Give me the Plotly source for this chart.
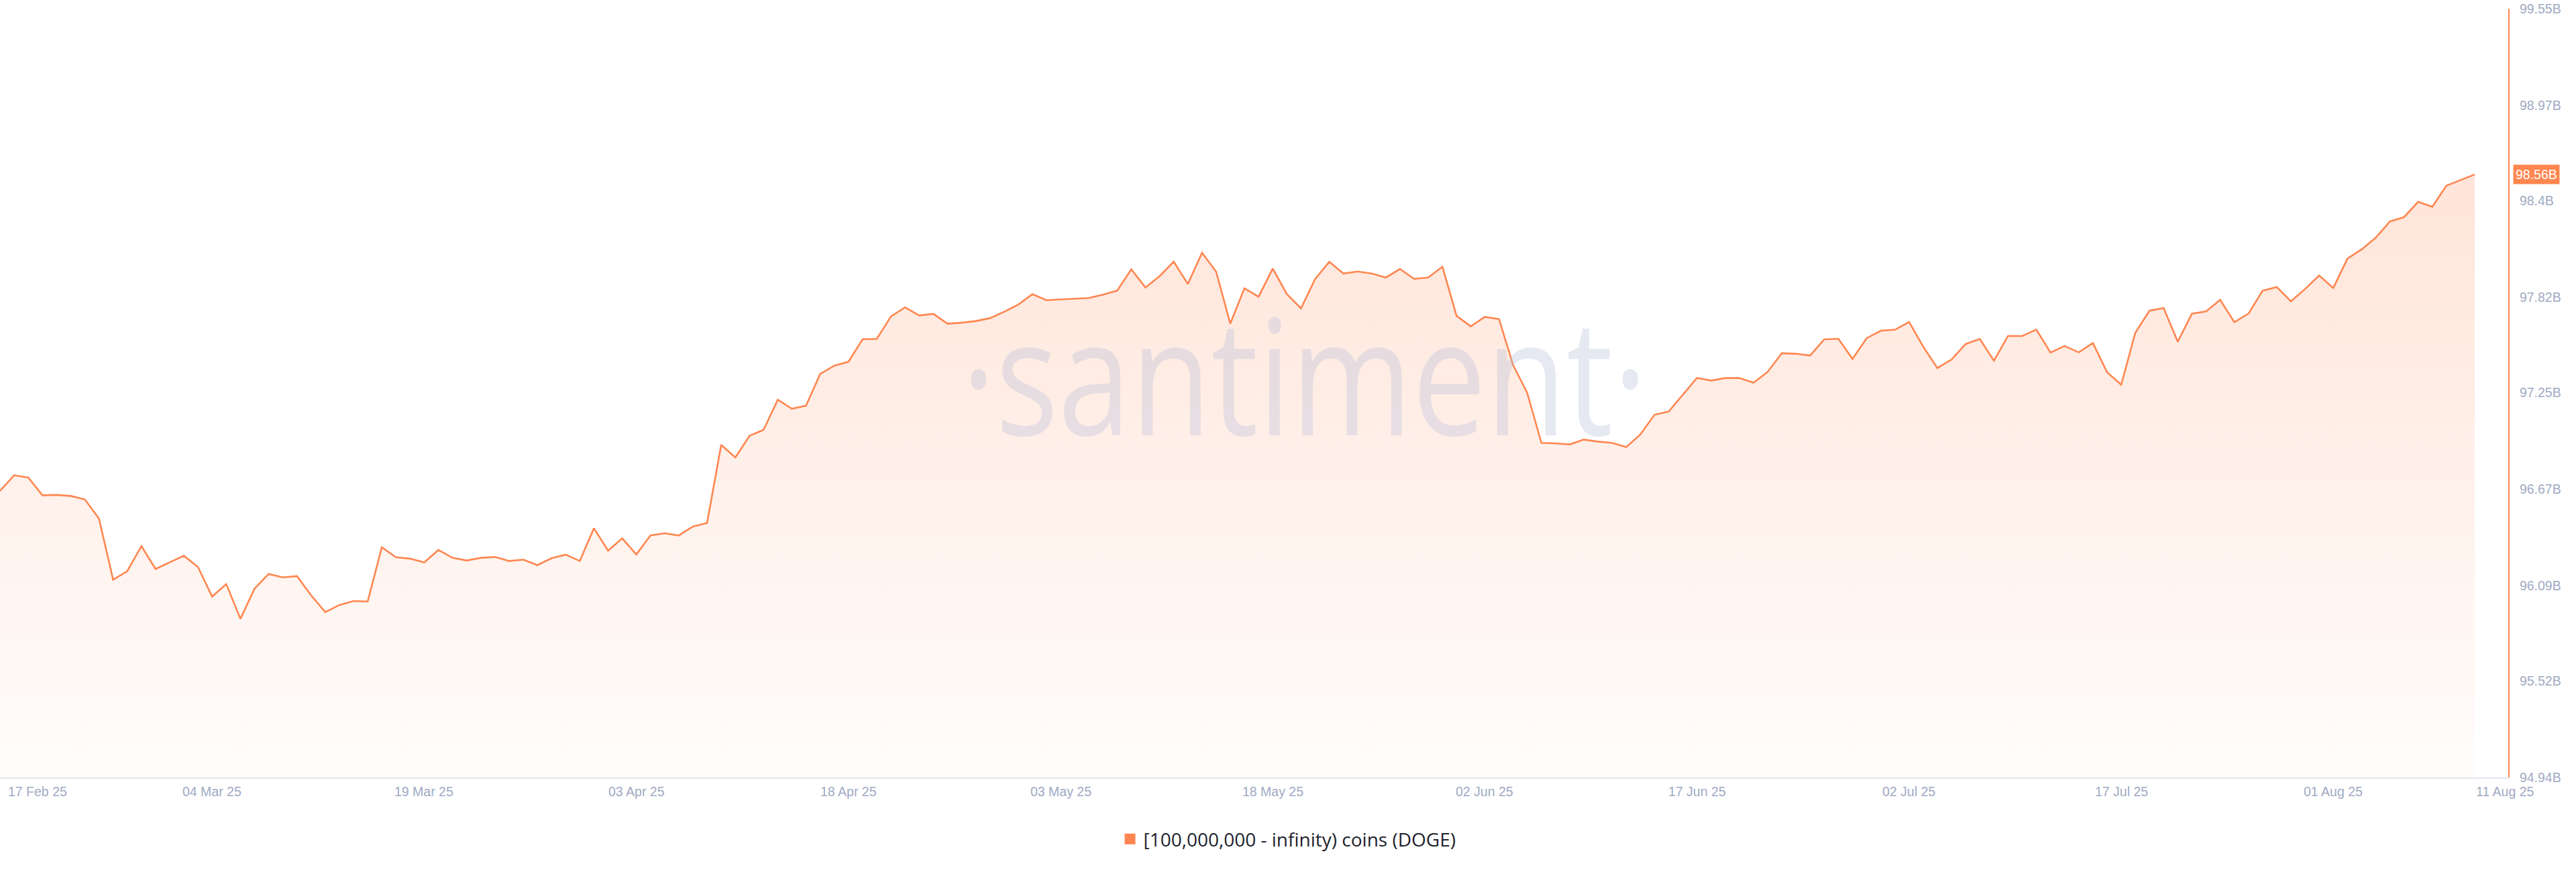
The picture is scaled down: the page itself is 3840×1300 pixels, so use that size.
import pandas as pd
import plotly.graph_objects as go

# ---- data -------------------------------------------------------------
start_date = "2025-02-17"
holdings_b = [
    96.658, 96.752, 96.738, 96.632, 96.634, 96.628, 96.607, 96.492, 96.126, 96.177,
    96.327, 96.190, 96.230, 96.269, 96.202, 96.025, 96.099, 95.891, 96.072, 96.160,
    96.140, 96.147, 96.032, 95.931, 95.974, 95.998, 95.995, 96.320, 96.260, 96.252,
    96.229, 96.304, 96.257, 96.241, 96.257, 96.262, 96.238, 96.246, 96.213, 96.254,
    96.276, 96.238, 96.434, 96.300, 96.374, 96.277, 96.391, 96.404,
    96.391, 96.445, 96.466, 96.934, 96.859, 96.988, 97.025, 97.205, 97.151, 97.169,
    97.360, 97.409, 97.433, 97.568, 97.570, 97.704, 97.759, 97.710, 97.720, 97.661,
    97.667, 97.677, 97.694, 97.732, 97.775, 97.838, 97.802, 97.806, 97.808, 97.815,
    97.835, 97.859, 97.987, 97.878, 97.946, 98.033, 97.899, 98.087, 97.973, 97.661,
    97.873, 97.823,
    97.992, 97.839, 97.753, 97.929, 98.032, 97.962, 97.974, 97.962, 97.938, 97.989,
    97.930, 97.938, 98.003, 97.708, 97.645, 97.702, 97.689, 97.413, 97.245, 96.946,
    96.943,
    96.937, 96.966, 96.954, 96.946, 96.921, 96.997, 97.115, 97.134, 97.236, 97.336,
    97.320, 97.335, 97.335, 97.307, 97.372, 97.484, 97.481, 97.470, 97.567, 97.571,
    97.449, 97.574, 97.619, 97.625, 97.671, 97.523, 97.395, 97.446, 97.539, 97.570,
    97.439, 97.588, 97.587, 97.626, 97.488, 97.527, 97.489, 97.545, 97.370, 97.295,
    97.607, 97.739, 97.755, 97.553, 97.721, 97.735, 97.804, 97.670, 97.721, 97.859,
    97.881, 97.795, 97.869, 97.950, 97.875, 98.052, 98.106, 98.177, 98.274, 98.300,
    98.392, 98.362, 98.489, 98.522, 98.556,
]
dates = pd.date_range(start_date, periods=len(holdings_b), freq="D")

x_tick_dates = ["2025-02-17", "2025-03-04", "2025-03-19", "2025-04-03", "2025-04-18",
                "2025-05-03", "2025-05-18", "2025-06-02", "2025-06-17", "2025-07-02",
                "2025-07-17", "2025-08-01", "2025-08-11"]
x_tick_labels = ["17 Feb 25", "04 Mar 25", "19 Mar 25", "03 Apr 25", "18 Apr 25",
                 "03 May 25", "18 May 25", "02 Jun 25", "17 Jun 25", "02 Jul 25",
                 "17 Jul 25", "01 Aug 25", "11 Aug 25"]
y_tick_vals = [94.94, 95.52, 96.09, 96.67, 97.25, 97.82, 98.40, 98.97, 99.55]
y_tick_labels = ["94.94B", "95.52B", "96.09B", "96.67B", "97.25B", "97.82B",
                 "98.4B", "98.97B", "99.55B"]
series_name = "[100,000,000 - infinity) coins (DOGE)"

# ---- style ------------------------------------------------------------
ORANGE = "#ff8650"
TICK_COLOR = "#9fa9c3"
TICK_FONT = "Liberation Sans, Arial, sans-serif"

fig = go.Figure()
fig.add_trace(go.Scatter(
    x=dates, y=holdings_b, mode="lines",
    line=dict(color=ORANGE, width=2.6),
    fill="tozeroy",
    fillgradient=dict(type="vertical", start=94.94, stop=max(holdings_b),
                      colorscale=[[0, "rgba(255,134,80,0.02)"],
                                  [1, "rgba(255,134,80,0.22)"]]),
    showlegend=False, hoverinfo="x+y",
))
# legend entry (square swatch)
fig.add_trace(go.Scatter(
    x=[None], y=[None], mode="markers", name=series_name,
    marker=dict(symbol="square", size=17, color=ORANGE),
    showlegend=True,
))

x_end = pd.Timestamp(start_date) + pd.Timedelta(days=177.37)

annotations = []
# x tick labels
for i, (d, t) in enumerate(zip(x_tick_dates, x_tick_labels)):
    if i == 0:
        anchor, shift = "left", 10
    elif i == len(x_tick_dates) - 1:
        anchor, shift = "left", 0
    else:
        anchor, shift = "center", 0
    annotations.append(dict(
        x=d, y=0, xref="x", yref="paper", xanchor=anchor, yanchor="middle",
        xshift=shift, yshift=-21, showarrow=False, text=t,
        font=dict(family=TICK_FONT, size=19.5, color=TICK_COLOR)))

# last value badge
last = holdings_b[-1]
annotations.append(dict(
    x=1, xref="paper", y=last, yref="y", xanchor="left", yanchor="middle",
    xshift=7, showarrow=False, text=f"{last:.2f}B", bgcolor=ORANGE,
    borderpad=3, font=dict(family=TICK_FONT, size=19.5, color="white")))

# watermark
annotations.append(dict(
    x=1945 / 3739, y=0.527, xref="paper", yref="paper", xanchor="center",
    yanchor="middle", showarrow=False, text="·santiment·",
    font=dict(family="Open Sans", size=240, color="rgba(184,192,218,0.35)")))

fig.update_layout(
    width=3840, height=1300,
    margin=dict(l=0, r=101, t=13, b=141),
    paper_bgcolor="white", plot_bgcolor="white",
    showlegend=True,
    legend=dict(orientation="h", xref="container", yref="container",
                x=0.5, xanchor="center", y=1 - 1251 / 1300, yanchor="middle",
                font=dict(family="Open Sans", size=28, color="#21222c"),
                bgcolor="rgba(0,0,0,0)"),
    annotations=annotations,
    xaxis=dict(
        range=[pd.Timestamp(start_date), x_end], showgrid=False, zeroline=False,
        showticklabels=False, ticks="", showline=True, linecolor="#e3e7f0",
        linewidth=2),
    yaxis=dict(
        range=[94.94, 99.55], side="right", showgrid=False, zeroline=False,
        tickvals=y_tick_vals, ticktext=y_tick_labels, ticks="",
        ticklabelstandoff=11,
        tickfont=dict(family=TICK_FONT, size=19.5, color=TICK_COLOR),
        showline=True, linecolor=ORANGE, linewidth=2),
)

post_js = """
document.body.style.margin = '0';
document.querySelectorAll('.annotation-text').forEach(function (el) {
  if (el.textContent.indexOf('santiment') >= 0) {
    el.style.transformBox = 'fill-box';
    el.style.transformOrigin = 'center';
    el.style.transform = 'scaleX(0.814)';
  }
});
"""

fig.write_html("out.html", post_script=post_js,
               config={"displayModeBar": False})
